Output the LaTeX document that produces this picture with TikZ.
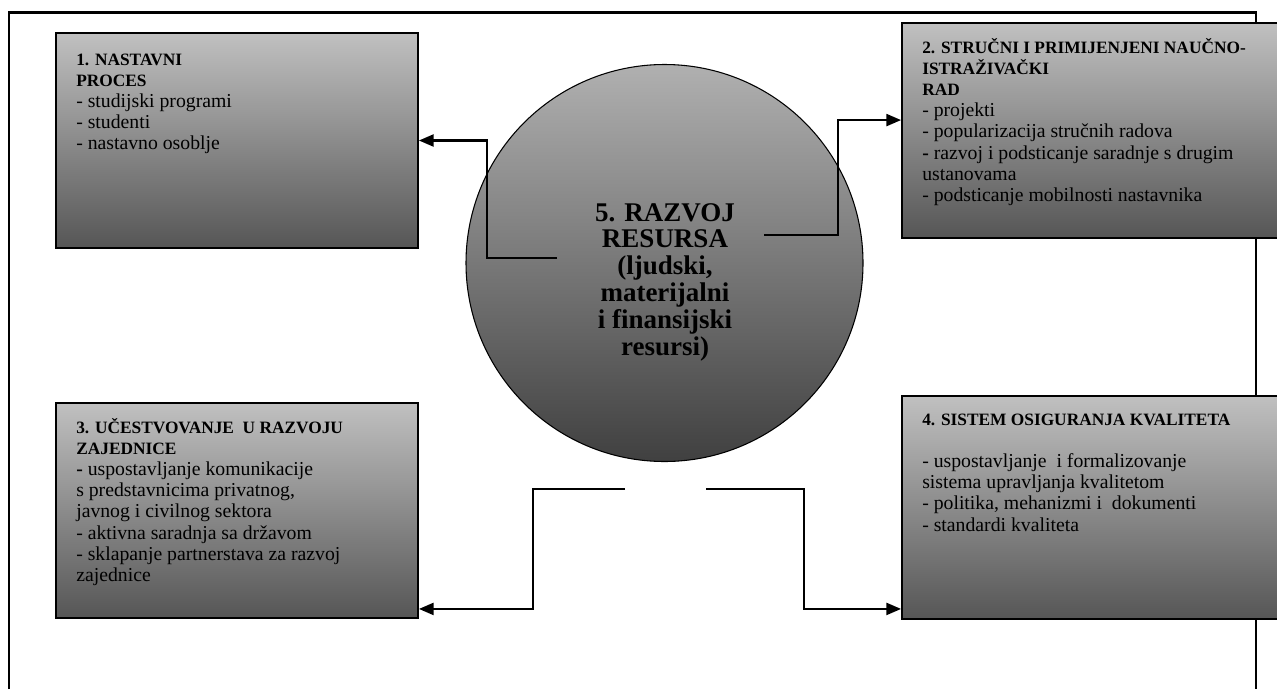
\documentclass[tikz,border=0pt]{standalone}
\usepackage{fontspec}
\setmainfont{Liberation Serif}
\usetikzlibrary{arrows.meta}
\definecolor{boxtop}{RGB}{192,192,192}
\definecolor{boxbot}{RGB}{86,86,86}
\definecolor{circtop}{RGB}{176,176,176}
\definecolor{circbot}{RGB}{64,64,64}
\newcommand{\hb}[1]{{\fontsize{13pt}{15.9pt}\selectfont\bfseries #1}}
\begin{document}
\begin{tikzpicture}[x=0.75pt,y=-0.75pt,
  boxnode/.style={rectangle, draw=black, line width=1.4pt, top color=boxtop, bottom color=boxbot, inner sep=0pt},
  hub/.style={circle, draw=black, line width=0.8pt, top color=circtop, bottom color=circbot, inner sep=0pt, minimum size=297.75pt},
  boxtext/.style={anchor=base west, inner sep=0pt, font=\fontsize{14.8pt}{15.9pt}\selectfont},
  hubtext/.style={anchor=base, inner sep=0pt, font=\fontsize{20.25pt}{20.1pt}\selectfont\bfseries},
  conn/.style={line width=1.6pt, -{Triangle[length=11pt,width=9pt]}},
  frameline/.style={line width=1.6pt}]
\clip (0,0) rectangle (1277,689);
\fill[white] (0,0) rectangle (1277,689);
\draw[frameline] (9,689) -- (9,12.5) -- (1256,12.5) -- (1256,689);

\node[boxnode, minimum width=271.5pt, minimum height=161.25pt] (b1) at (237,140.5) {};
\node[boxnode, minimum width=291pt, minimum height=161.25pt] (b2) at (1096,130.5) {};
\node[boxnode, minimum width=271.5pt, minimum height=161.25pt] (b3) at (237,510.5) {};
\node[boxnode, minimum width=291pt, minimum height=167.25pt] (b4) at (1096,507.5) {};
\node[hub] (c) at (664.5,263) {};

\coordinate (s1) at (557,258);
\coordinate (s2) at (764,235);
\coordinate (s3) at (625,489);
\coordinate (s4) at (706,489);
\draw[conn] (s1) -- ++(-70,0) |- (b1.east);
\draw[conn] (s2) -- ++(74,0) |- ([yshift=-73.5pt]b2.north west);
\draw[conn] (s3) -- ++(-92,0) |- ([yshift=7.5pt]b3.south east);
\draw[conn] (s4) -- ++(98,0) |- ([yshift=8.25pt]b4.south west);

\node[boxtext] (t1) at (76,65) {\parbox[t]{300pt}{\raggedright
\hb{1. NASTAVNI}\\
\hb{PROCES}\\
- studijski programi\\
- studenti\\
- nastavno osoblje}};
\node[boxtext] (t2) at (922,53) {\parbox[t]{300pt}{\raggedright
\hb{2. STRUČNI I PRIMIJENJENI NAUČNO-}\\
\hb{ISTRAŽIVAČKI}\\
\hb{RAD}\\
- projekti\\
- popularizacija stručnih radova\\
\textbf{-} razvoj i podsticanje saradnje s drugim\\
ustanovama\\
- podsticanje mobilnosti nastavnika}};
\node[boxtext] (t3) at (76,433) {\parbox[t]{300pt}{\raggedright
\hb{3. UČESTVOVANJE\ \ U RAZVOJU}\\
\hb{ZAJEDNICE}\\
\textbf{-} uspostavljanje komunikacije\\
s predstavnicima privatnog,\\
javnog i civilnog sektora\\
- aktivna saradnja sa državom\\
- sklapanje partnerstava za razvoj\\
zajednice}};
\node[boxtext] (t4) at (922,425) {\parbox[t]{300pt}{\raggedright
\hb{4. SISTEM OSIGURANJA KVALITETA}\\
\mbox{}\\
- uspostavljanje\ \ i formalizovanje\\
sistema upravljanja kvalitetom\\
- politika, mehanizmi i\ \ dokumenti\\
- standardi kvaliteta}};
\node[hubtext] (t5) at (665,221) {\parbox[t]{200pt}{\centering
5. RAZVOJ\\
RESURSA\\
(ljudski,\\
materijalni\\
i finansijski\\
resursi)}};
\end{tikzpicture}
\end{document}
